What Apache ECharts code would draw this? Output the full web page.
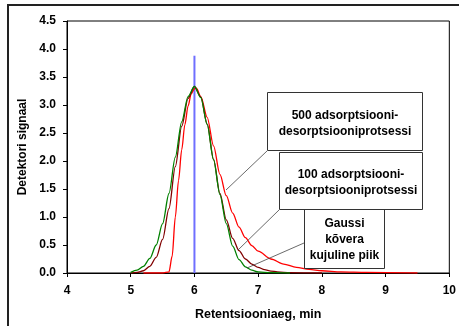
<!DOCTYPE html>
<html>
<head>
<meta charset="utf-8">
<script src="https://cdn.jsdelivr.net/npm/echarts@6/dist/echarts.min.js"></script>
<style>
  html, body { margin: 0; padding: 0; background: #fff; }
  #chart { width: 459px; height: 326px; }
</style>
</head>
<body>
<div id="chart"></div>
<script>
// Gaussi kõvera kujuline piik
var gaussX = [5.0, 5.1, 5.2, 5.3, 5.4, 5.5, 5.6, 5.7, 5.8, 5.9, 6.0, 6.1, 6.2, 6.3, 6.4, 6.5, 6.6, 6.7, 6.8, 6.9, 7.0, 7.2, 7.5];
var gaussY = [0.01, 0.05, 0.12, 0.26, 0.50, 0.88, 1.42, 2.07, 2.70, 3.15, 3.33, 3.13, 2.65, 2.02, 1.40, 0.88, 0.48, 0.24, 0.11, 0.05, 0.02, 0.005, 0];

// 100 adsorptsiooni-desorptsiooniprotsessi
var p100X = [5.0, 5.1, 5.2, 5.3, 5.4, 5.5, 5.6, 5.7, 5.8, 5.9, 6.0, 6.1, 6.2, 6.3, 6.4, 6.5, 6.6, 6.7, 6.8, 6.9, 7.0, 7.1, 7.2, 7.3, 7.5, 8.0];
var p100Y = [0, 0.01, 0.04, 0.12, 0.28, 0.60, 1.15, 1.90, 2.62, 3.12, 3.33, 3.14, 2.66, 2.03, 1.42, 0.95, 0.62, 0.40, 0.25, 0.16, 0.10, 0.06, 0.035, 0.02, 0.005, 0];

// 500 adsorptsiooni-desorptsiooniprotsessi
var p500X = [5.2, 5.5, 5.6, 5.65, 5.7, 5.75, 5.8, 5.85, 5.9, 5.95, 6.0, 6.03, 6.1, 6.2, 6.3, 6.4, 6.5, 6.6, 6.7, 6.8, 6.9, 7.0, 7.2, 7.4, 7.6, 7.8, 8.0, 8.3, 8.7, 9.5];
var p500Y = [0, 0, 0.02, 0.30, 1.00, 1.65, 2.20, 2.65, 2.98, 3.20, 3.29, 3.30, 3.15, 2.78, 2.27, 1.76, 1.38, 1.07, 0.82, 0.63, 0.49, 0.39, 0.25, 0.16, 0.10, 0.065, 0.04, 0.02, 0.01, 0];

// vertical marker at the peak
var markerX = [6, 6];
var markerY = [0, 3.88];

var xTicks = [4, 5, 6, 7, 8, 9, 10];
var yTicks = [0, 0.5, 1, 1.5, 2, 2.5, 3, 3.5, 4, 4.5];

function pairs(xs, ys) {
    var out = [];
    for (var i = 0; i < xs.length; i++) out.push([xs[i], ys[i]]);
    return out;
}

var font = 'Liberation Sans, Arial, sans-serif';

var myChart = echarts.init(document.getElementById('chart'));

var option = {
    animation: false,
    backgroundColor: '#fff',
    grid: {
        left: 67,
        top: 21,
        right: 7,
        bottom: 49,
        show: true,
        borderColor: '#000',
        borderWidth: 1
    },
    xAxis: {
        type: 'value',
        min: xTicks[0],
        max: xTicks[xTicks.length - 1],
        interval: 1,
        name: 'Retentsiooniaeg, min',
        nameLocation: 'middle',
        nameGap: 35,
        nameTextStyle: { fontFamily: font, fontWeight: 'bold', fontSize: 12.5, color: '#000' },
        axisLine: { lineStyle: { color: '#000', width: 1 } },
        axisTick: { show: true, length: 4, lineStyle: { color: '#000' } },
        axisLabel: { fontFamily: font, fontWeight: 'bold', fontSize: 12, color: '#000', margin: 12 },
        splitLine: { show: false }
    },
    yAxis: {
        type: 'value',
        min: yTicks[0],
        max: yTicks[yTicks.length - 1],
        interval: 0.5,
        name: 'Detektori signaal',
        nameLocation: 'middle',
        nameGap: 37,
        nameTextStyle: { fontFamily: font, fontWeight: 'bold', fontSize: 12, color: '#000' },
        axisLine: { show: true, lineStyle: { color: '#000', width: 1 } },
        axisTick: { show: true, length: 4, lineStyle: { color: '#000' } },
        axisLabel: {
            fontFamily: font, fontWeight: 'bold', fontSize: 12, color: '#000', margin: 11,
            formatter: function (v) { return v.toFixed(1); }
        },
        splitLine: { show: false }
    },
    series: [
        {
            type: 'line',
            data: pairs(markerX, markerY),
            showSymbol: false,
            lineStyle: { color: '#6f6fff', width: 2 }
        },
        {
            type: 'line',
            data: pairs(p500X, p500Y),
            showSymbol: false,
            smooth: 0.3,
            smoothMonotone: 'x',
            lineStyle: { color: '#ff0000', width: 1.3 }
        },
        {
            type: 'line',
            data: pairs(p100X, p100Y),
            showSymbol: false,
            smooth: 0.3,
            smoothMonotone: 'x',
            lineStyle: { color: '#800000', width: 1.3 }
        },
        {
            type: 'line',
            data: pairs(gaussX, gaussY),
            showSymbol: false,
            smooth: 0.3,
            smoothMonotone: 'x',
            lineStyle: { color: '#008000', width: 1.3 }
        }
    ],
    graphic: [
        // outer chart border
        { type: 'rect', shape: { x: 8, y: 5, width: 470, height: 340 }, style: { fill: 'none', stroke: '#222', lineWidth: 2 }, z: 10 },
        // leader lines
        { type: 'line', shape: { x1: 267, y1: 151, x2: 226, y2: 190 }, style: { stroke: '#444', lineWidth: 0.8 }, z: 10 },
        { type: 'line', shape: { x1: 279, y1: 210, x2: 238, y2: 250 }, style: { stroke: '#444', lineWidth: 0.8 }, z: 10 },
        { type: 'line', shape: { x1: 304, y1: 243, x2: 247, y2: 268 }, style: { stroke: '#444', lineWidth: 0.8 }, z: 10 },
        // box: Gaussi
        { type: 'rect', shape: { x: 304.5, y: 209.5, width: 80, height: 59 }, style: { fill: '#fff', stroke: '#333', lineWidth: 1 }, z: 11 },
        { type: 'text', x: 344.5, y: 240, style: { text: 'Gaussi\nkõvera\nkujuline piik', fill: '#000', font: 'bold 12px ' + font, align: 'center', verticalAlign: 'middle', lineHeight: 16 }, z: 11 },
        // box: 100
        { type: 'rect', shape: { x: 279.5, y: 152.5, width: 143, height: 57 }, style: { fill: '#fff', stroke: '#333', lineWidth: 1 }, z: 12 },
        { type: 'text', x: 351, y: 183, style: { text: '100 adsorptsiooni-\ndesorptsiooniprotsessi', fill: '#000', font: 'bold 12px ' + font, align: 'center', verticalAlign: 'middle', lineHeight: 16 }, z: 12 },
        // box: 500
        { type: 'rect', shape: { x: 267.5, y: 92.5, width: 155, height: 58 }, style: { fill: '#fff', stroke: '#333', lineWidth: 1 }, z: 13 },
        { type: 'text', x: 345, y: 124, style: { text: '500 adsorptsiooni-\ndesorptsiooniprotsessi', fill: '#000', font: 'bold 12px ' + font, align: 'center', verticalAlign: 'middle', lineHeight: 16 }, z: 13 }
    ]
};

myChart.setOption(option);
</script>
</body>
</html>
